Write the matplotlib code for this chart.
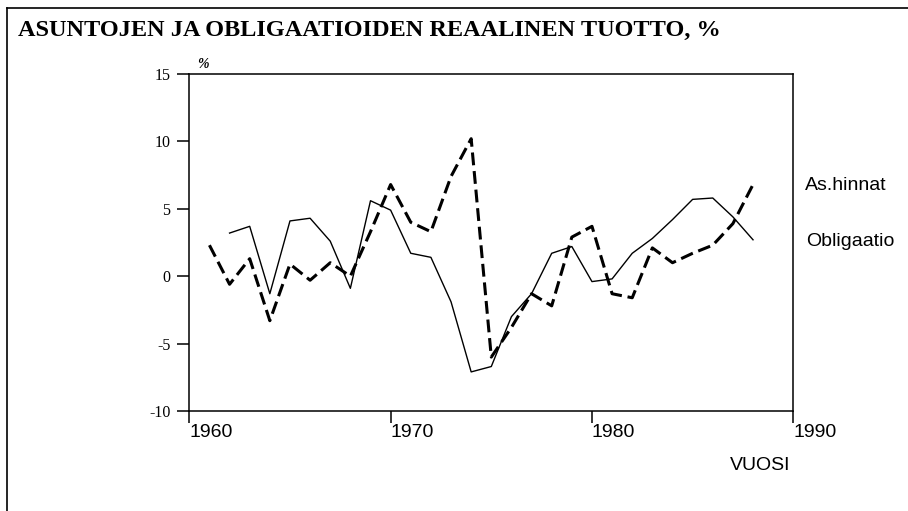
import matplotlib
matplotlib.use("Agg")
import matplotlib.pyplot as plt
from matplotlib.lines import Line2D

plt.rcParams["axes.unicode_minus"] = False

# Real return on housing and bonds, %
years_as = list(range(1962, 1989))
as_hinnat = [3.2, 3.7, -1.3, 4.1, 4.3, 2.6, -0.9, 5.6, 4.9, 1.7, 1.4, -1.9, -7.1,
             -6.7, -3.0, -1.3, 1.7, 2.2, -0.4, -0.2, 1.7, 2.8, 4.2, 5.7, 5.8, 4.4, 2.7]

years_ob = list(range(1961, 1989))
obligaatio = [2.3, -0.6, 1.3, -3.3, 0.9, -0.3, 1.0, 0.0, 3.3, 6.8, 4.0, 3.3, 7.4, 10.2,
              -6.0, -3.8, -1.3, -2.2, 2.9, 3.7, -1.3, -1.6, 2.1, 1.0, 1.7, 2.3, 3.9, 6.8]

x_ticks = [1960, 1970, 1980, 1990]
y_ticks = [-10, -5, 0, 5, 10, 15]

title = "ASUNTOJEN JA OBLIGAATIOIDEN REAALINEN TUOTTO, %"
sans = "Liberation Sans"
serif = "Liberation Serif"

fig = plt.figure(figsize=(9.08, 5.11), dpi=100)
W, H = 908, 511
ax = fig.add_axes([189.3 / W, 1 - 411 / H, 604 / W, 337 / H])

ax.plot(years_as, as_hinnat, color="black", lw=1.0)
ax.plot(years_ob, obligaatio, color="black", lw=2.2, dashes=(4.2, 1.9))

ax.set_xlim(1960, 1990)
ax.set_ylim(-10, 15)
ax.set_xticks(x_ticks)
ax.set_yticks(y_ticks)
for s in ax.spines.values():
    s.set_linewidth(1.1)
ax.tick_params(direction="out", length=8.6, width=1.1, color="black")
ax.tick_params(axis="x", pad=1, labelsize=14)
ax.tick_params(axis="y", pad=5, labelsize=11.5)
for lbl in ax.get_xticklabels():
    lbl.set_ha("left")
    lbl.set_family(sans)
for lbl in ax.get_yticklabels():
    lbl.set_family(serif)

# page frame
fig.add_artist(Line2D([7 / W, 7 / W], [0, 1 - 8 / H], color="black", lw=1.2))
fig.add_artist(Line2D([7 / W, 1], [1 - 8 / H, 1 - 8 / H], color="black", lw=1.2))

fig.text(18 / W, 1 - 30 / H, title, family=serif, weight="bold", fontsize=17.5,
         va="center", ha="left")
fig.text(203 / W, 1 - 65 / H, "%", family=serif, style="italic", weight="bold",
         fontsize=10, ha="center", va="center")
fig.text(760 / W, 1 - 465 / H, "VUOSI", family=sans, fontsize=14, ha="center", va="center")
fig.text(805 / W, 1 - 186 / H, "As.hinnat", family=sans, fontsize=14, ha="left", va="center")
fig.text(806 / W, 1 - 241 / H, "Obligaatio", family=sans, fontsize=14, ha="left", va="center")

fig.savefig("out.png", dpi=100)
